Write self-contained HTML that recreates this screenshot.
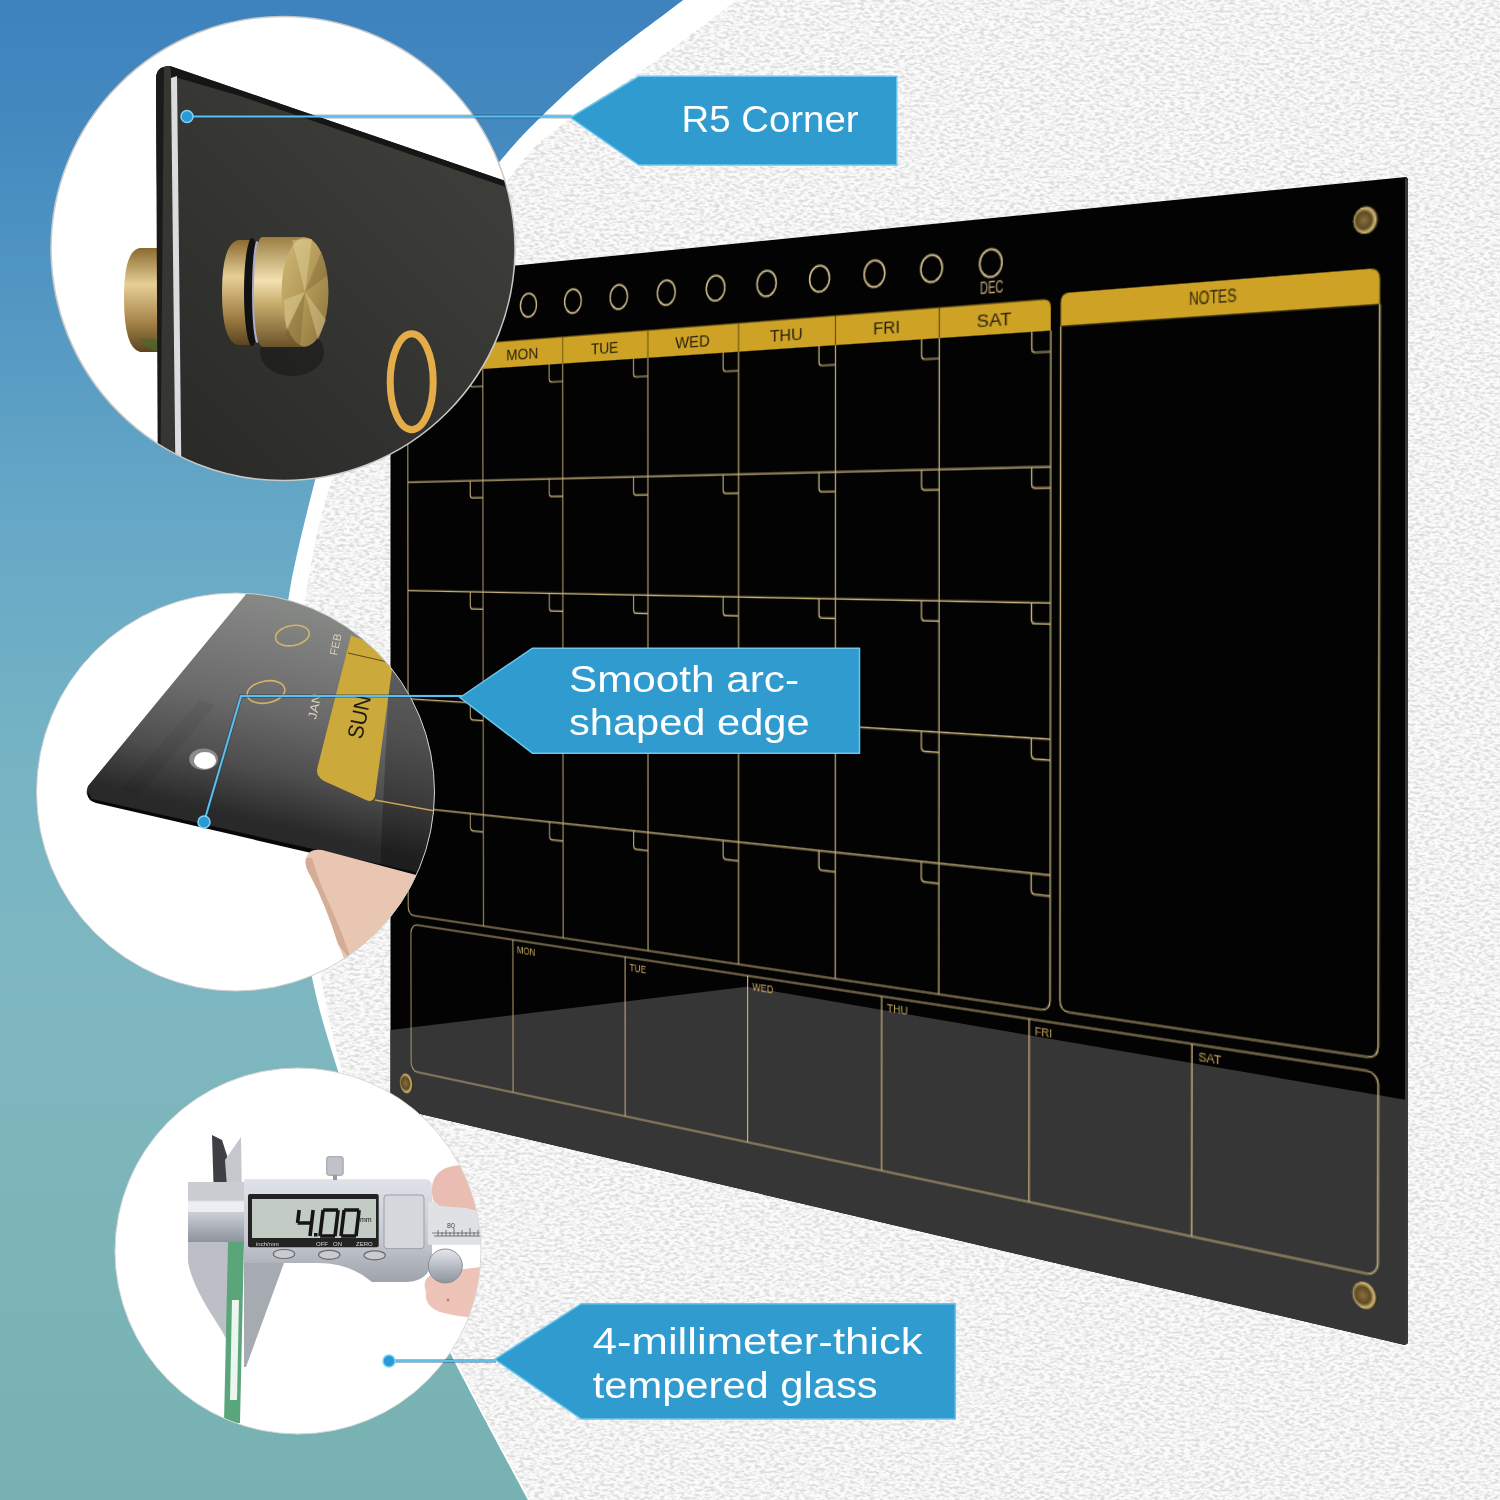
<!DOCTYPE html>
<html><head><meta charset="utf-8"><style>
html,body{margin:0;padding:0;}
body{width:1500px;height:1500px;overflow:hidden;position:relative;background:#f0f0f0;font-family:"Liberation Sans",sans-serif;}
.abs{position:absolute;left:0;top:0;}
#board{width:1000px;height:750px;transform-origin:0 0;transform:matrix3d(0.607498658,-0.158530281,0,-0.000292323689,0.0027108401,1.10793977,0,3.76547952e-06,0,0,1,0,388.703278,281.308782,0,1);}
</style></head><body>
<svg class="abs" width="1500" height="1500" viewBox="0 0 1500 1500">
<defs>
<linearGradient id="bg" x1="0" y1="0" x2="0" y2="1">
<stop offset="0" stop-color="#3e82be"/><stop offset="0.08" stop-color="#4389bf"/><stop offset="0.207" stop-color="#5398c3"/><stop offset="0.347" stop-color="#66a8c6"/><stop offset="0.507" stop-color="#76b4c4"/><stop offset="0.673" stop-color="#7eb7c0"/><stop offset="0.833" stop-color="#7bb5b7"/><stop offset="1" stop-color="#77b1b2"/>
</linearGradient>
</defs>
<filter id="wallf" x="0" y="0" width="1500" height="1500" filterUnits="userSpaceOnUse">
<feTurbulence type="fractalNoise" baseFrequency="0.2 0.38" numOctaves="2" seed="7" result="n"/>
<feColorMatrix in="n" type="matrix" values="0 0 0 0 0  0 0 0 0 0  0 0 0 0 0  -3.2 0 0 0 1.9" result="a"/>
<feFlood flood-color="#dcdcdc" result="c"/>
<feComposite in="c" in2="a" operator="in"/>
<feGaussianBlur stdDeviation="0.35"/>
</filter>
<rect x="0" y="0" width="1500" height="1500" fill="#fbfbfb"/>
<rect x="0" y="0" width="1500" height="1500" filter="url(#wallf)"/>
<path d="M740,-2 C723.33,10.33 667.67,52.33 640,72 C612.33,91.67 593.5,101.33 574,116 C554.5,130.67 540.33,139.33 523,160 C505.67,180.67 492.17,206.67 470,240 C447.83,273.33 413,319.92 390,360 C367,400.08 346,441.33 332,480.5 C318,519.67 311.83,558.42 306,595 C300.17,631.58 298,657.5 297,700 C296,742.5 296,803.67 300,850 C304,896.33 314,941.33 321,978 C328,1014.67 331.33,1033 342,1070 C352.67,1107 370.67,1161.67 385,1200 C399.33,1238.33 414.5,1270 428,1300 C441.5,1330 448.83,1346.33 466,1380 C483.17,1413.67 520.17,1481.67 531,1502 L0,1502 L0,-2 Z" fill="#ffffff"/>
<path d="M686,-2 C671.67,8.93 624,43.93 600,63.6 C576,83.27 558.5,99.93 542,116 C525.5,132.07 521.33,136 501,160 C480.67,184 446.83,221.67 420,260 C393.17,298.33 357.5,353.25 340,390 C322.5,426.75 323.5,446.33 315,480.5 C306.5,514.67 294.83,558.42 289,595 C283.17,631.58 279.83,657.5 280,700 C280.17,742.5 284.5,803 290,850 C295.5,897 305,945.17 313,982 C321,1018.83 326.83,1034.67 338,1071 C349.17,1107.33 365.5,1161.83 380,1200 C394.5,1238.17 411,1270 425,1300 C439,1330 446.67,1346.33 464,1380 C481.33,1413.67 518.17,1481.67 529,1502 L0,1502 L0,-2 Z" fill="url(#bg)"/>
<path d="M390.5,278 L1406,177 L1408,179 L1408,1343 L1405,1345 L390.5,1107 Z" fill="#030303"/>
<path d="M390.5,1030 L746.7,986.7 L1407,1100 L1407,1343 L1405,1345 L390.5,1107 Z" fill="#363636"/>
<path d="M1405,178 L1408,180 L1408,1343 L1405,1345 Z" fill="#3a3a3a"/>
</svg>
<div id="board" class="abs"><svg width="1000" height="750" viewBox="0 0 1000 750" font-family="Liberation Sans, sans-serif">
<defs><radialGradient id="brass" cx="0.42" cy="0.5" r="0.55"><stop offset="0" stop-color="#8a7040"/><stop offset="0.55" stop-color="#5e4a22"/><stop offset="0.82" stop-color="#d6bf7a"/><stop offset="1" stop-color="#2a200c"/></radialGradient></defs>
<circle cx="75" cy="33" r="10" fill="none" stroke="#cdb98a" stroke-width="1.6"/>
<circle cx="129.2" cy="33" r="10" fill="none" stroke="#cdb98a" stroke-width="1.6"/>
<circle cx="183.4" cy="33" r="10" fill="none" stroke="#cdb98a" stroke-width="1.6"/>
<circle cx="237.6" cy="33" r="10" fill="none" stroke="#cdb98a" stroke-width="1.6"/>
<circle cx="291.8" cy="33" r="10" fill="none" stroke="#cdb98a" stroke-width="1.6"/>
<circle cx="346" cy="33" r="10" fill="none" stroke="#cdb98a" stroke-width="1.6"/>
<circle cx="400.2" cy="33" r="10" fill="none" stroke="#cdb98a" stroke-width="1.6"/>
<circle cx="454.4" cy="33" r="10" fill="none" stroke="#cdb98a" stroke-width="1.6"/>
<circle cx="508.6" cy="33" r="10" fill="none" stroke="#cdb98a" stroke-width="1.6"/>
<circle cx="562.8" cy="33" r="10" fill="none" stroke="#cdb98a" stroke-width="1.6"/>
<circle cx="617" cy="33" r="10" fill="none" stroke="#cdb98a" stroke-width="1.6"/>
<circle cx="671.2" cy="33" r="10" fill="none" stroke="#cdb98a" stroke-width="1.6"/>
<text x="672" y="55.5" font-size="12" fill="#bfa878" text-anchor="middle" textLength="21" lengthAdjust="spacingAndGlyphs">DEC</text>
<path d="M26,85 V68.6 Q26,62.6 32,62.6 H718 Q724,62.6 724,68.6 V85 Z" fill="#cda225"/>
<line x1="125.71" y1="62.6" x2="125.71" y2="85" stroke="#5a4412" stroke-width="1"/>
<line x1="225.43" y1="62.6" x2="225.43" y2="85" stroke="#5a4412" stroke-width="1"/>
<line x1="325.14" y1="62.6" x2="325.14" y2="85" stroke="#5a4412" stroke-width="1"/>
<line x1="424.86" y1="62.6" x2="424.86" y2="85" stroke="#5a4412" stroke-width="1"/>
<line x1="524.57" y1="62.6" x2="524.57" y2="85" stroke="#5a4412" stroke-width="1"/>
<line x1="624.29" y1="62.6" x2="624.29" y2="85" stroke="#5a4412" stroke-width="1"/>
<text x="75.86" y="79" font-size="13" fill="#2a200c" text-anchor="middle" textLength="36" lengthAdjust="spacingAndGlyphs">SUN</text>
<text x="175.57" y="79" font-size="13" fill="#2a200c" text-anchor="middle" textLength="40" lengthAdjust="spacingAndGlyphs">MON</text>
<text x="275.29" y="79" font-size="13" fill="#2a200c" text-anchor="middle" textLength="32" lengthAdjust="spacingAndGlyphs">TUE</text>
<text x="375" y="79" font-size="13" fill="#2a200c" text-anchor="middle" textLength="38" lengthAdjust="spacingAndGlyphs">WED</text>
<text x="474.71" y="79" font-size="13" fill="#2a200c" text-anchor="middle" textLength="34" lengthAdjust="spacingAndGlyphs">THU</text>
<text x="574.43" y="79" font-size="13" fill="#2a200c" text-anchor="middle" textLength="26" lengthAdjust="spacingAndGlyphs">FRI</text>
<text x="674.14" y="79" font-size="13" fill="#2a200c" text-anchor="middle" textLength="31" lengthAdjust="spacingAndGlyphs">SAT</text>
<path d="M26,85 V563 Q26,571 34,571 H716 Q724,571 724,563 V85" fill="none" stroke="#c6b07a" stroke-width="1.2"/>
<line x1="26" y1="182.2" x2="724" y2="182.2" stroke="#c6b07a" stroke-width="1.2"/>
<line x1="26" y1="279.4" x2="724" y2="279.4" stroke="#c6b07a" stroke-width="1.2"/>
<line x1="26" y1="376.6" x2="724" y2="376.6" stroke="#c6b07a" stroke-width="1.2"/>
<line x1="26" y1="473.8" x2="724" y2="473.8" stroke="#c6b07a" stroke-width="1.2"/>
<line x1="125.71" y1="85" x2="125.71" y2="571" stroke="#c6b07a" stroke-width="1.2"/>
<line x1="225.43" y1="85" x2="225.43" y2="571" stroke="#c6b07a" stroke-width="1.2"/>
<line x1="325.14" y1="85" x2="325.14" y2="571" stroke="#c6b07a" stroke-width="1.2"/>
<line x1="424.86" y1="85" x2="424.86" y2="571" stroke="#c6b07a" stroke-width="1.2"/>
<line x1="524.57" y1="85" x2="524.57" y2="571" stroke="#c6b07a" stroke-width="1.2"/>
<line x1="624.29" y1="85" x2="624.29" y2="571" stroke="#c6b07a" stroke-width="1.2"/>
<path d="M109.21,85 V97 Q109.21,100 112.21,100 H125.71" fill="none" stroke="#c6b07a" stroke-width="1.2"/>
<path d="M208.93,85 V97 Q208.93,100 211.93,100 H225.43" fill="none" stroke="#c6b07a" stroke-width="1.2"/>
<path d="M308.64,85 V97 Q308.64,100 311.64,100 H325.14" fill="none" stroke="#c6b07a" stroke-width="1.2"/>
<path d="M408.36,85 V97 Q408.36,100 411.36,100 H424.86" fill="none" stroke="#c6b07a" stroke-width="1.2"/>
<path d="M508.07,85 V97 Q508.07,100 511.07,100 H524.57" fill="none" stroke="#c6b07a" stroke-width="1.2"/>
<path d="M607.79,85 V97 Q607.79,100 610.79,100 H624.29" fill="none" stroke="#c6b07a" stroke-width="1.2"/>
<path d="M707.5,85 V97 Q707.5,100 710.5,100 H724" fill="none" stroke="#c6b07a" stroke-width="1.2"/>
<path d="M109.21,182.2 V194.2 Q109.21,197.2 112.21,197.2 H125.71" fill="none" stroke="#c6b07a" stroke-width="1.2"/>
<path d="M208.93,182.2 V194.2 Q208.93,197.2 211.93,197.2 H225.43" fill="none" stroke="#c6b07a" stroke-width="1.2"/>
<path d="M308.64,182.2 V194.2 Q308.64,197.2 311.64,197.2 H325.14" fill="none" stroke="#c6b07a" stroke-width="1.2"/>
<path d="M408.36,182.2 V194.2 Q408.36,197.2 411.36,197.2 H424.86" fill="none" stroke="#c6b07a" stroke-width="1.2"/>
<path d="M508.07,182.2 V194.2 Q508.07,197.2 511.07,197.2 H524.57" fill="none" stroke="#c6b07a" stroke-width="1.2"/>
<path d="M607.79,182.2 V194.2 Q607.79,197.2 610.79,197.2 H624.29" fill="none" stroke="#c6b07a" stroke-width="1.2"/>
<path d="M707.5,182.2 V194.2 Q707.5,197.2 710.5,197.2 H724" fill="none" stroke="#c6b07a" stroke-width="1.2"/>
<path d="M109.21,279.4 V291.4 Q109.21,294.4 112.21,294.4 H125.71" fill="none" stroke="#c6b07a" stroke-width="1.2"/>
<path d="M208.93,279.4 V291.4 Q208.93,294.4 211.93,294.4 H225.43" fill="none" stroke="#c6b07a" stroke-width="1.2"/>
<path d="M308.64,279.4 V291.4 Q308.64,294.4 311.64,294.4 H325.14" fill="none" stroke="#c6b07a" stroke-width="1.2"/>
<path d="M408.36,279.4 V291.4 Q408.36,294.4 411.36,294.4 H424.86" fill="none" stroke="#c6b07a" stroke-width="1.2"/>
<path d="M508.07,279.4 V291.4 Q508.07,294.4 511.07,294.4 H524.57" fill="none" stroke="#c6b07a" stroke-width="1.2"/>
<path d="M607.79,279.4 V291.4 Q607.79,294.4 610.79,294.4 H624.29" fill="none" stroke="#c6b07a" stroke-width="1.2"/>
<path d="M707.5,279.4 V291.4 Q707.5,294.4 710.5,294.4 H724" fill="none" stroke="#c6b07a" stroke-width="1.2"/>
<path d="M109.21,376.6 V388.6 Q109.21,391.6 112.21,391.6 H125.71" fill="none" stroke="#c6b07a" stroke-width="1.2"/>
<path d="M208.93,376.6 V388.6 Q208.93,391.6 211.93,391.6 H225.43" fill="none" stroke="#c6b07a" stroke-width="1.2"/>
<path d="M308.64,376.6 V388.6 Q308.64,391.6 311.64,391.6 H325.14" fill="none" stroke="#c6b07a" stroke-width="1.2"/>
<path d="M408.36,376.6 V388.6 Q408.36,391.6 411.36,391.6 H424.86" fill="none" stroke="#c6b07a" stroke-width="1.2"/>
<path d="M508.07,376.6 V388.6 Q508.07,391.6 511.07,391.6 H524.57" fill="none" stroke="#c6b07a" stroke-width="1.2"/>
<path d="M607.79,376.6 V388.6 Q607.79,391.6 610.79,391.6 H624.29" fill="none" stroke="#c6b07a" stroke-width="1.2"/>
<path d="M707.5,376.6 V388.6 Q707.5,391.6 710.5,391.6 H724" fill="none" stroke="#c6b07a" stroke-width="1.2"/>
<path d="M109.21,473.8 V485.8 Q109.21,488.8 112.21,488.8 H125.71" fill="none" stroke="#c6b07a" stroke-width="1.2"/>
<path d="M208.93,473.8 V485.8 Q208.93,488.8 211.93,488.8 H225.43" fill="none" stroke="#c6b07a" stroke-width="1.2"/>
<path d="M308.64,473.8 V485.8 Q308.64,488.8 311.64,488.8 H325.14" fill="none" stroke="#c6b07a" stroke-width="1.2"/>
<path d="M408.36,473.8 V485.8 Q408.36,488.8 411.36,488.8 H424.86" fill="none" stroke="#c6b07a" stroke-width="1.2"/>
<path d="M508.07,473.8 V485.8 Q508.07,488.8 511.07,488.8 H524.57" fill="none" stroke="#c6b07a" stroke-width="1.2"/>
<path d="M607.79,473.8 V485.8 Q607.79,488.8 610.79,488.8 H624.29" fill="none" stroke="#c6b07a" stroke-width="1.2"/>
<path d="M707.5,473.8 V485.8 Q707.5,488.8 710.5,488.8 H724" fill="none" stroke="#c6b07a" stroke-width="1.2"/>
<path d="M732.5,82.3 V66 Q732.5,59 739.5,59 H973.7 Q980.7,59 980.7,66 V82.3 Z" fill="#cda225"/>
<text x="856.6" y="74.5" font-size="13" fill="#2a200c" text-anchor="middle" textLength="37" lengthAdjust="spacingAndGlyphs">NOTES</text>
<path d="M732.5,82.3 V562 Q732.5,570 740.5,570 H972.7 Q980.7,570 980.7,562 V82.3" fill="none" stroke="#c6b07a" stroke-width="1.2"/>
<rect x="29.7" y="579" width="951.1" height="132" rx="8" fill="none" stroke="#c6b07a" stroke-width="1.2"/>
<line x1="163.4" y1="579" x2="163.4" y2="711" stroke="#c6b07a" stroke-width="1.2"/>
<text x="168.4" y="590" font-size="9" fill="#c8a860" textLength="23" lengthAdjust="spacingAndGlyphs">MON</text>
<line x1="299" y1="579" x2="299" y2="711" stroke="#c6b07a" stroke-width="1.2"/>
<text x="304" y="590" font-size="9" fill="#c8a860" textLength="19" lengthAdjust="spacingAndGlyphs">TUE</text>
<line x1="434.6" y1="579" x2="434.6" y2="711" stroke="#c6b07a" stroke-width="1.2"/>
<text x="439.6" y="590" font-size="9" fill="#c8a860" textLength="22" lengthAdjust="spacingAndGlyphs">WED</text>
<line x1="570.2" y1="579" x2="570.2" y2="711" stroke="#c6b07a" stroke-width="1.2"/>
<text x="575.2" y="590" font-size="9" fill="#c8a860" textLength="20" lengthAdjust="spacingAndGlyphs">THU</text>
<line x1="705.8" y1="579" x2="705.8" y2="711" stroke="#c6b07a" stroke-width="1.2"/>
<text x="710.8" y="590" font-size="9" fill="#c8a860" textLength="15" lengthAdjust="spacingAndGlyphs">FRI</text>
<line x1="841.4" y1="579" x2="841.4" y2="711" stroke="#c6b07a" stroke-width="1.2"/>
<text x="846.4" y="590" font-size="9" fill="#c8a860" textLength="18" lengthAdjust="spacingAndGlyphs">SAT</text>
<circle cx="23.4" cy="27.3" r="9" fill="url(#brass)"/>
<circle cx="970.7" cy="27.3" r="9" fill="url(#brass)"/>
<circle cx="971.7" cy="725.5" r="9" fill="url(#brass)"/>
<circle cx="23.4" cy="723.3" r="9" fill="url(#brass)"/>
</svg></div>
<svg class="abs" width="1500" height="1500" viewBox="0 0 1500 1500" font-family="Liberation Sans, sans-serif">
<defs>
<clipPath id="c1"><circle cx="283" cy="248.5" r="232"/></clipPath>
<clipPath id="c2"><circle cx="235.5" cy="792" r="199"/></clipPath>
<clipPath id="c3"><circle cx="298" cy="1251" r="183"/></clipPath>
<linearGradient id="brassH" x1="0" y1="0" x2="0" y2="1"><stop offset="0" stop-color="#8a6a30"/><stop offset="0.35" stop-color="#e6cf95"/><stop offset="0.7" stop-color="#a8864a"/><stop offset="1" stop-color="#5a4420"/></linearGradient>
<linearGradient id="brassF" x1="0" y1="0" x2="1" y2="1"><stop offset="0" stop-color="#cfb878"/><stop offset="0.5" stop-color="#b49a58"/><stop offset="1" stop-color="#8a7038"/></linearGradient>
<linearGradient id="brassH2" x1="0" y1="0" x2="0" y2="1"><stop offset="0" stop-color="#9a7e42"/><stop offset="0.4" stop-color="#f2e2b2"/><stop offset="0.6" stop-color="#c8ae6e"/><stop offset="1" stop-color="#6a5228"/></linearGradient>
<linearGradient id="silver" x1="0" y1="0" x2="0" y2="1"><stop offset="0" stop-color="#e6e8ec"/><stop offset="0.5" stop-color="#b8bcc4"/><stop offset="1" stop-color="#8e939c"/></linearGradient>
<linearGradient id="gloss2" gradientUnits="userSpaceOnUse" x1="262" y1="600" x2="205" y2="850"><stop offset="0" stop-color="#868886"/><stop offset="0.4" stop-color="#6a6a6a"/><stop offset="0.64" stop-color="#4e4e4e"/><stop offset="0.84" stop-color="#2a2a2a"/><stop offset="1" stop-color="#262626"/></linearGradient>
<linearGradient id="face1" gradientUnits="userSpaceOnUse" x1="470" y1="200" x2="200" y2="470"><stop offset="0" stop-color="#3c3c39"/><stop offset="1" stop-color="#2a2a28"/></linearGradient>
<linearGradient id="silver2" x1="0" y1="0" x2="0" y2="1"><stop offset="0" stop-color="#dfe2e8"/><stop offset="0.6" stop-color="#c4c8d0"/><stop offset="1" stop-color="#9ea3ac"/></linearGradient>
</defs>
<g clip-path="url(#c1)"><circle cx="283" cy="248.5" r="232" fill="#ffffff"/><path d="M160,248 L140,248 Q124,250 124,298 Q124,348 140,352 L160,352 Z" fill="url(#brassH)"/><path d="M140,338 Q150,352 160,352 L160,340 Z" fill="#4a6a2a" opacity="0.7"/><path d="M160,520 L156,80 Q156,66 170,66 L240,90 L520,186 L540,520 Z" fill="url(#face1)"/><path d="M156,80 Q156,66 170,66 L240,90 L520,186 L520,192 L240,96 L178,78 Z" fill="#161616"/><path d="M156,80 Q156,66 170,66 L171,72 L175,480 L160,520 Z" fill="#363632"/><path d="M156,80 Q156,68 164,67 L160,520 L158,520 Z" fill="#1a1a1a"/><path d="M171,78 L177,76 L181.5,480 L175.5,480 Z" fill="#dcdcde"/><ellipse cx="292" cy="352" rx="32" ry="24" fill="#161616" opacity="0.55"/><path d="M252,240 L238,240 Q222,244 222,292 Q222,342 238,345 L252,345 Z" fill="url(#brassH)"/><ellipse cx="252" cy="292" rx="8" ry="54" fill="#111111"/><ellipse cx="257" cy="292" rx="5" ry="51" fill="#a9a9c9"/><path d="M262,237 L305,237 L305,347 L262,347 Q254,344 254,292 Q254,240 262,237 Z" fill="url(#brassH2)"/><ellipse cx="305" cy="292" rx="23.5" ry="54.5" fill="url(#brassF)"/><path d="M305,292 L292,240 L312,239 Z M305,292 L326,320 L318,340 Z M305,292 L284,300 L286,330 Z" fill="#f0e2b0" opacity="0.35"/><path d="M305,292 L322,250 L328,275 Z M305,292 L300,346 L285,335 Z" fill="#6a5428" opacity="0.3"/><ellipse cx="411.7" cy="381.7" rx="21.5" ry="48" fill="none" stroke="#e4ad4a" stroke-width="7"/></g><circle cx="283" cy="248.5" r="232" fill="none" stroke="#c8c8c8" stroke-width="1.5"/>
<g clip-path="url(#c2)"><circle cx="235.5" cy="792" r="199" fill="#ffffff"/><path d="M246,580 L245.6,594.8 L88,786 Q84,796 92,800 L428,876 L450,878 L450,580 Z" fill="url(#gloss2)"/><path d="M120,790 L200,700 L215,705 L140,795 Z" fill="#000000" opacity="0.05"/><path d="M390,660 L440,660 L440,880 L380,870 Z" fill="#000000" opacity="0.25"/><path d="M88,792 Q86,800 96,803 L428,880 L450,883 L450,877 L428,875 L92,799 Z" fill="#080808"/><path d="M351,635.6 L392,650 L392,669 L375,796 Q373,803 366,800 L324,781 Q315,776 317.6,767 Z" fill="#cba93a"/><path d="M348,653 L392,663" stroke="#5a4a1a" stroke-width="1"/><path d="M375,800 L440,812" stroke="#c9a452" stroke-width="1.5"/><text x="0" y="0" font-size="22" fill="#1e1a10" transform="translate(362,740) rotate(-78)" textLength="44" lengthAdjust="spacingAndGlyphs">SUN</text><ellipse cx="266" cy="692" rx="19" ry="11" fill="none" stroke="#d4b46a" stroke-width="1.6" transform="rotate(-10 266 692)"/><ellipse cx="292.4" cy="635.6" rx="17" ry="10" fill="none" stroke="#d4b46a" stroke-width="1.6" transform="rotate(-10 292.4 635.6)"/><text x="0" y="0" font-size="12" fill="#d8d0b8" transform="translate(316,720) rotate(-78)" textLength="26" lengthAdjust="spacingAndGlyphs">JAN</text><text x="0" y="0" font-size="11" fill="#d8d0b8" transform="translate(337,656) rotate(-78)" textLength="22" lengthAdjust="spacingAndGlyphs">FEB</text><ellipse cx="203.6" cy="759.2" rx="14.4" ry="10.8" fill="#8a8a8a"/><ellipse cx="205" cy="760.5" rx="11" ry="8.5" fill="#ffffff"/><path d="M306,858 Q309,848 322,850 L420,876 L440,880 L440,1000 L356,1000 Q346,960 338,944 Q326,905 310,875 Q304,866 306,858 Z" fill="#e9c6b2"/><path d="M338,944 Q326,905 310,875 Q304,866 306,858 L312,858 Q318,880 332,910 Q345,940 352,962 Z" fill="#c89c86" opacity="0.6"/></g><circle cx="235.5" cy="792" r="199" fill="none" stroke="#d0d0d0" stroke-width="1"/>
<g clip-path="url(#c3)"><circle cx="298" cy="1251" r="183" fill="#ffffff"/><path d="M212,1135 L222,1140 L230,1165 L230,1200 L214,1200 Z" fill="#3e4046"/><path d="M225,1160 L241,1137 L242,1200 L228,1200 Z" fill="#c4c7cd"/><rect x="188" y="1182" width="56" height="20" fill="#c9ccd1"/><rect x="188" y="1200.7" width="300" height="41.3" fill="url(#silver)"/><rect x="188" y="1202" width="56" height="10" fill="#eceef2"/><path d="M188,1242 L229,1242 L229,1330 L237,1330 L237,1360 Q228,1340 215,1320 Q192,1285 188,1262 Z" fill="#bcbfc5"/><path d="M244,1242 L284,1242 L284,1263 L246,1367 L244,1367 Z" fill="#a6aab1"/><path d="M228,1242 L244,1242 L240,1423 L224,1423 Z" fill="#5aa67a"/><path d="M232,1300 L239,1300 L237,1400 L230,1400 Z" fill="#eaf6ee"/><path d="M244,1179.3 L426,1179.3 Q432,1179.3 432,1188 L432,1262 Q428,1282 405,1282 L372,1282 Q350,1263 318,1263 L244,1263 Z" fill="url(#silver2)"/><rect x="248" y="1194" width="130.7" height="53.3" rx="2" fill="#232323"/><rect x="252" y="1199" width="124" height="39" fill="#c2ccc5"/><path d="M299.12,1210 L297.56,1223 M297.56,1223 L311.56,1223 M313.12,1210 L311.56,1223 M311.56,1223 L310,1236 " stroke="#151515" stroke-width="3.6" stroke-linecap="butt" fill="none"/><rect x="314" y="1233" width="3.5" height="3.5" fill="#151515"/><path d="M323.12,1210 L338.12,1210 M338.12,1210 L336.56,1223 M336.56,1223 L335,1236 M320,1236 L335,1236 M321.56,1223 L320,1236 M323.12,1210 L321.56,1223 " stroke="#151515" stroke-width="3.6" stroke-linecap="butt" fill="none"/><path d="M344.12,1210 L359.12,1210 M359.12,1210 L357.56,1223 M357.56,1223 L356,1236 M341,1236 L356,1236 M342.56,1223 L341,1236 M344.12,1210 L342.56,1223 " stroke="#151515" stroke-width="3.6" stroke-linecap="butt" fill="none"/><text x="360" y="1222" font-size="7" fill="#151515">mm</text><text x="256" y="1245.5" font-size="6" fill="#ddd" font-family="Liberation Sans, sans-serif">inch/mm</text><text x="316" y="1245.5" font-size="6" fill="#ddd">OFF</text><text x="333" y="1245.5" font-size="6" fill="#ddd">ON</text><text x="356" y="1245.5" font-size="6" fill="#ddd">ZERO</text><rect x="384" y="1195" width="40" height="53.7" rx="3" fill="#d4d7dc" stroke="#9a9ea6" stroke-width="1"/><ellipse cx="284" cy="1254" rx="10.7" ry="4.5" fill="#c8cbd0" stroke="#6a6a6a" stroke-width="1.2"/><ellipse cx="329.3" cy="1254.8" rx="10.7" ry="4.5" fill="#c8cbd0" stroke="#6a6a6a" stroke-width="1.2"/><ellipse cx="374.7" cy="1255.3" rx="10.7" ry="4.5" fill="#c8cbd0" stroke="#6a6a6a" stroke-width="1.2"/><rect x="326.7" y="1156.7" width="16.5" height="18.6" rx="2" fill="#bfc2c8" stroke="#8a8d92" stroke-width="0.8"/><rect x="333" y="1175" width="4" height="5" fill="#999"/><rect x="428" y="1202" width="60" height="42.7" fill="#dfe1e5"/><path d="M432,1233 H481" stroke="#666" stroke-width="0.8"/><path d="M433,1200 Q428,1176 446,1168 Q462,1162 490,1166 L490,1214 L466,1208 L440,1206 Z" fill="#e9bdb2"/><path d="M434,1236 H481 M438,1230 V1236 M442,1232 V1236 M446,1230 V1236 M450,1232 V1236 M454,1228 V1236 M458,1232 V1236 M462,1230 V1236 M466,1232 V1236 M470,1228 V1236 M474,1232 V1236 M478,1230 V1236" stroke="#555" stroke-width="0.8" fill="none"/><text x="447" y="1228" font-size="7" fill="#444">80</text><path d="M426,1292 Q420,1276 440,1272 L490,1266 L490,1318 Q460,1318 440,1312 Q424,1306 426,1292 Z" fill="#eec3b8"/><circle cx="448" cy="1300" r="1.5" fill="#b08a7a"/><circle cx="445.3" cy="1266" r="17" fill="url(#silver)" stroke="#8a8d92" stroke-width="1"/></g><circle cx="298" cy="1251" r="183" fill="none" stroke="#d8d8d8" stroke-width="1"/>
<path d="M187,116.5 L572,116.5" stroke="#0d3550" stroke-opacity="0.35" stroke-width="4" fill="none"/><path d="M187,116.5 L572,116.5" stroke="#5cc0ee" stroke-width="2" fill="none"/><circle cx="187" cy="116.5" r="6" fill="#2a9ad6" stroke="#7fd3f5" stroke-width="1.5"/>
<path d="M204,822 L241,696 L462,696" stroke="#0d3550" stroke-opacity="0.35" stroke-width="4" fill="none"/><path d="M204,822 L241,696 L462,696" stroke="#5cc0ee" stroke-width="2" fill="none"/><circle cx="204" cy="822" r="6" fill="#2a9ad6" stroke="#7fd3f5" stroke-width="1.5"/>
<path d="M389,1361 L496,1361" stroke="#0d3550" stroke-opacity="0.35" stroke-width="4" fill="none"/><path d="M389,1361 L496,1361" stroke="#5cc0ee" stroke-width="2" fill="none"/><circle cx="389" cy="1361" r="6" fill="#2a9ad6" stroke="#7fd3f5" stroke-width="1.5"/>
<path d="M570.5,117.5 L638.8,76.3 L896.8,76.3 L896.8,165 L638.8,165 Z" fill="#2f9bcf" stroke="#6cc6ee" stroke-width="1.5"/>
<path d="M460,697.5 L532.4,648.2 L859.5,648.2 L859.5,753.2 L532.4,753.2 Z" fill="#2f9bcf" stroke="#6cc6ee" stroke-width="1.5"/>
<path d="M494.7,1359.3 L581.3,1303.7 L955.3,1303.7 L955.3,1419 L581.3,1419 Z" fill="#2f9bcf" stroke="#6cc6ee" stroke-width="1.5"/>
<text x="681.5" y="132" font-size="36" fill="#ffffff" textLength="177" lengthAdjust="spacingAndGlyphs">R5 Corner</text>
<text x="569" y="691.6" font-size="36" fill="#ffffff" textLength="230" lengthAdjust="spacingAndGlyphs">Smooth arc-</text>
<text x="569" y="735" font-size="36" fill="#ffffff" textLength="240.6" lengthAdjust="spacingAndGlyphs">shaped edge</text>
<text x="592.7" y="1353.7" font-size="36" fill="#ffffff" textLength="330" lengthAdjust="spacingAndGlyphs">4-millimeter-thick</text>
<text x="592.7" y="1397.8" font-size="36" fill="#ffffff" textLength="285" lengthAdjust="spacingAndGlyphs">tempered glass</text>
</svg>
</body></html>
